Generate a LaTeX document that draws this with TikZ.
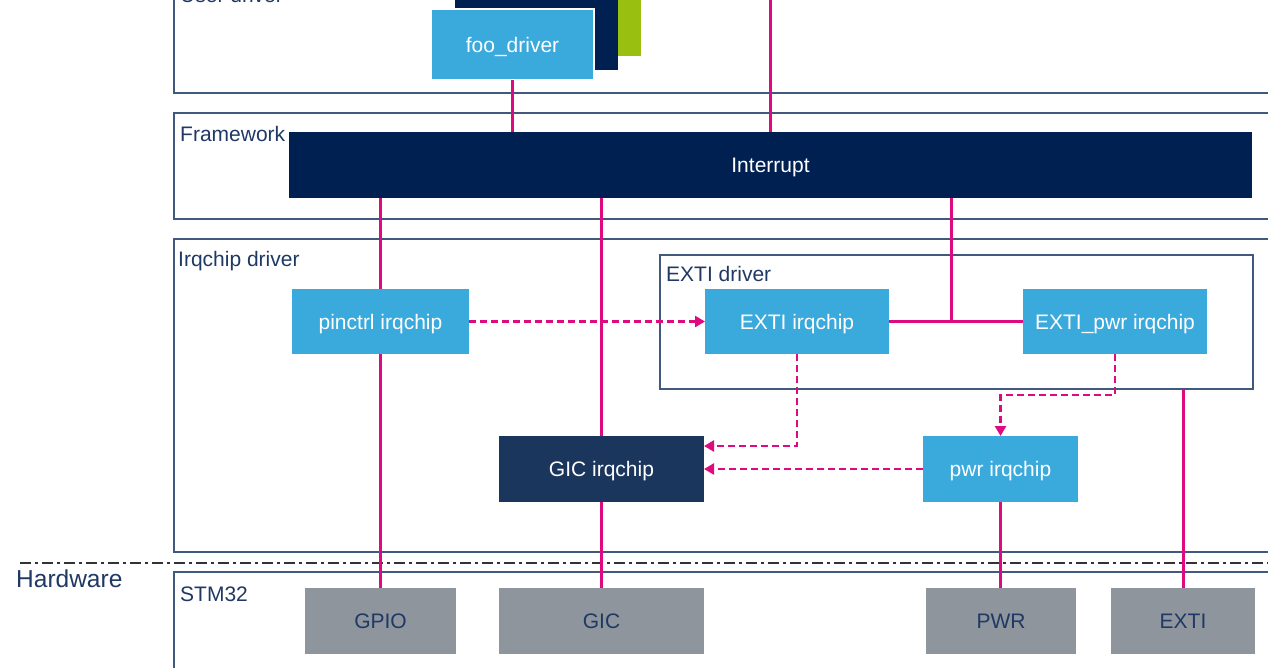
\documentclass[tikz,border=0pt]{standalone}
\usepackage{fontspec}
\setmainfont{Liberation Sans}
\usetikzlibrary{arrows.meta,calc}
\definecolor{lb}{HTML}{3AA9DC}
\definecolor{navy}{HTML}{002052}
\definecolor{gicnavy}{HTML}{1A365D}
\definecolor{hwgray}{HTML}{8E959C}
\definecolor{mag}{HTML}{DD0A80}
\definecolor{stgreen}{HTML}{99C010}
\definecolor{edgec}{HTML}{41597C}
\definecolor{labc}{HTML}{1F3864}
\tikzset{
  txt/.style={font=\fontsize{21}{25}\selectfont},
  lbl/.style={txt, text=labc, inner sep=0pt, anchor=base west},
  layer/.style={draw=edgec, line width=1.4pt},
  boxbase/.style={txt, inner sep=0pt, outer sep=0pt, draw=none, text height=15pt, text depth=0pt},
  lbbox/.style={boxbase, fill=lb, text=white},
  navybox/.style={boxbase, fill=navy, text=white},
  gicbox/.style={boxbase, fill=gicnavy, text=white},
  hwbox/.style={boxbase, fill=hwgray, text=labc},
  wire/.style={draw=mag, line width=3pt},
  dwire/.style={draw=mag, line width=2.6pt, dash pattern=on 7pt off 4pt, -{Triangle[length=10pt,width=11pt]}},
}
\begin{document}
\begin{tikzpicture}[x=1pt,y=-1pt]
\useasboundingbox (0,0) rectangle (1268,667);
\clip (0,0) rectangle (1268,667);
% layers
\draw[layer] (174,-30) rectangle (1290,93);
\node[lbl] (luser) at (180,2) {User driver};
\draw[layer] (174,113) rectangle (1290,219);
\node[lbl] (lfw) at (180,141) {Framework};
\draw[layer] (174,239) rectangle (1290,552);
\node[lbl] (lirq) at (178,266) {Irqchip driver};
\draw[layer] (174,572) rectangle (1290,700);
\node[lbl] (lstm) at (180,601) {STM32};
\draw[draw=black!80, line width=1.5pt, dash pattern=on 11pt off 4pt on 3pt off 4pt] (20,563) -- (1268,563);
\node[lbl, font=\fontsize{24.5}{29}\selectfont] (lhw) at (16,587) {Hardware};
\node[layer, minimum width=593pt, minimum height=134pt, inner sep=0pt, outer sep=0pt] (extidrv) at (956.5,322) {};
\node[lbl] (lexti) at (666,281) {EXTI driver};
% stacked driver pages
\fill[stgreen] (480,-10) rectangle (641,56);
\fill[navy] (455,-10) rectangle (618,70);
\node[lbbox, draw=white, line width=1.5pt, minimum width=163pt, minimum height=71pt] (foo) at (512.5,44.5) {foo\_driver};
% framework
\node[navybox, minimum width=963pt, minimum height=66pt] (intr) at (770.5,165) {Interrupt};
% irqchips
\node[lbbox, minimum width=177pt, minimum height=65pt] (pinctrl) at (380.5,321.5) {pinctrl irqchip};
\node[lbbox, minimum width=184pt, minimum height=65pt] (extiirq) at (797,321.5) {EXTI irqchip};
\node[lbbox, minimum width=184pt, minimum height=65pt] (extipwr) at (1115,321.5) {EXTI\_pwr irqchip};
\node[gicbox, minimum width=205pt, minimum height=66pt] (gicirq) at (601.5,469) {GIC irqchip};
\node[lbbox, minimum width=155pt, minimum height=66pt] (pwrirq) at (1000.5,469) {pwr irqchip};
% hardware
\node[hwbox, minimum width=151pt, minimum height=66pt] (gpio) at (380.5,621) {GPIO};
\node[hwbox, minimum width=205pt, minimum height=66pt] (gic) at (601.5,621) {GIC};
\node[hwbox, minimum width=150pt, minimum height=66pt] (pwr) at (1001,621) {PWR};
\node[hwbox, minimum width=144pt, minimum height=66pt] (exti) at (1183,621) {EXTI};
% solid connectors
\coordinate (topin) at (770,0);
\coordinate (jn) at (951,321.5);
\draw[wire] (foo.south) -- (foo.south |- intr.north);
\draw[wire] (topin) -- (topin |- intr.north);
\draw[wire] (pinctrl.north |- intr.south) -- (pinctrl.north);
\draw[wire] (pinctrl.south) -- (gpio.north);
\draw[wire] (gicirq.north |- intr.south) -- (gicirq.north);
\draw[wire] (gicirq.south) -- (gic.north);
\draw[wire] (jn |- intr.south) -- (jn);
\draw[wire] (extiirq.east) -- (extipwr.west);
\draw[wire] (pwrirq.south) -- (pwrirq.south |- pwr.north);
\draw[wire] (exti.north) -- (exti.north |- extidrv.south);
% dashed connectors
\draw[dwire] (pinctrl.east) -- (extiirq.west);
\draw[dwire] (extiirq.south) |- ([yshift=23pt]gicirq.east);
\draw[dwire] (pwrirq.west) -- (gicirq.east);
\draw[dwire] (extipwr.south) -- ++(0,41) -| (pwrirq.north);
\end{tikzpicture}
\end{document}
